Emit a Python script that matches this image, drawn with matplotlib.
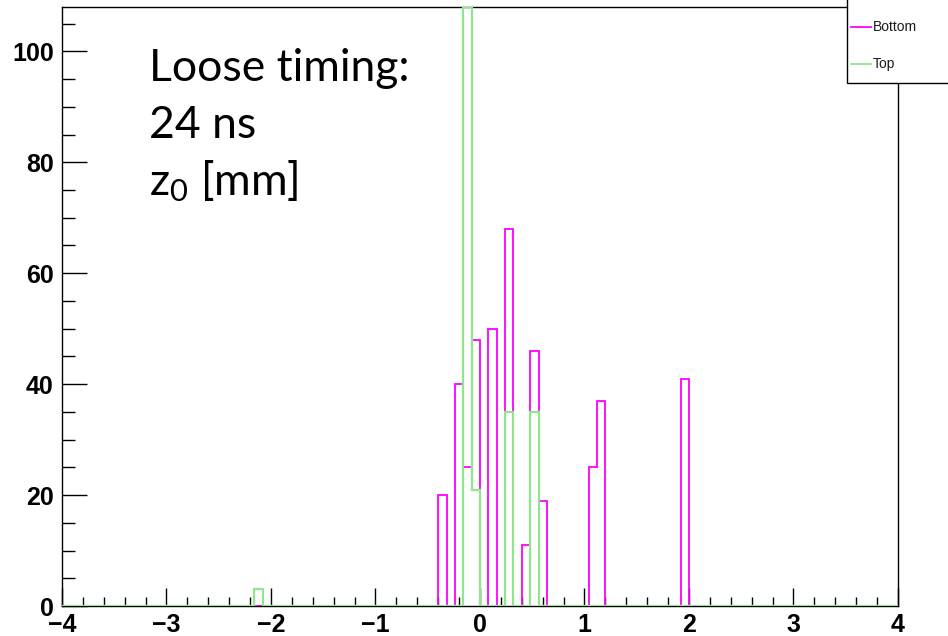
import numpy as np
import matplotlib.pyplot as plt
from matplotlib.patches import Rectangle
from matplotlib.lines import Line2D

# histogram binning: 100 bins on [-4, 4]
n_bins = 100
x_lo, x_hi = -4.0, 4.0

# filled bins (bin centres) and counts
bottom_bins = [-0.36, -0.20, -0.12, -0.04, 0.12, 0.28, 0.44, 0.52, 0.60, 1.08, 1.16, 1.96]
bottom_counts = [20, 40, 25, 48, 50, 68, 11, 46, 19, 25, 37, 41]
top_bins = [-2.12, -0.12, -0.04, 0.28, 0.52]
top_counts = [3, 108, 21, 35, 35]

y_max = 108
label_lines = ["Loose timing:", "24 ns", r"z$_{\mathrm{0}}$ [mm]"]

MAGENTA = "#ff00ff"
GREEN = "#8fe68f"

plt.rcParams["mathtext.fontset"] = "custom"
plt.rcParams["mathtext.rm"] = "Lato"
plt.rcParams["mathtext.it"] = "Lato:italic"

edges = np.linspace(x_lo, x_hi, n_bins + 1)
h_bottom, _ = np.histogram(bottom_bins, bins=edges, weights=bottom_counts)
h_top, _ = np.histogram(top_bins, bins=edges, weights=top_counts)

W, H = 948, 636
fig = plt.figure(figsize=(W / 100, H / 100), dpi=100)
ax = fig.add_axes([62 / W, 1 - 606 / H, (898 - 62) / W, (606 - 7) / H])

ax.stairs(h_bottom, edges, baseline=0, fill=False, color=MAGENTA, lw=1.3, zorder=3)
ax.stairs(h_top, edges, baseline=0, fill=False, color=GREEN, lw=1.6, zorder=4)

ax.set_xlim(x_lo, x_hi)
ax.set_ylim(0, y_max)

ax.set_xticks(np.arange(-4, 5, 1))
ax.set_xticks(np.arange(-4, 4.01, 0.2), minor=True)
ax.set_yticks(np.arange(0, 101, 20))
ax.set_yticks(np.arange(0, 106, 5), minor=True)
ax.set_xticklabels([f"\u2212{abs(v)}" if v < 0 else str(v) for v in range(-4, 5)])

tick_font = dict(family="Liberation Sans", weight="bold", size=18)
for lab in ax.get_xticklabels() + ax.get_yticklabels():
    lab.set_fontproperties(tick_font)

ax.tick_params(axis="x", which="major", direction="in", length=13, width=1, pad=5)
ax.tick_params(axis="x", which="minor", direction="in", length=6.5, width=1)
ax.tick_params(axis="y", which="major", direction="in", length=18, width=1, pad=6)
ax.tick_params(axis="y", which="minor", direction="in", length=9, width=1)
ax.tick_params(top=False, right=False, which="both")

for side in ["left", "right", "top", "bottom"]:
    ax.spines[side].set_linewidth(1)
    ax.spines[side].set_color("black")

# big annotation text
for i, line in enumerate(label_lines):
    fig.text(149 / W, 1 - (81 + 57 * i) / H, line, fontsize=32,
             family="Lato", color="black", va="baseline", ha="left")

# ROOT-style legend box in the top right corner
fig.add_artist(Rectangle((847 / W, 1 - 83 / H), 0.2, 0.2,
                         transform=fig.transFigure, facecolor="white",
                         edgecolor="black", lw=1, zorder=10))
for yy, name, col in [(27, "Bottom", MAGENTA), (64, "Top", GREEN)]:
    fig.add_artist(Line2D([851 / W, 871 / W], [1 - yy / H, 1 - yy / H],
                          transform=fig.transFigure, color=col, lw=1.3, zorder=11))
    fig.text(873 / W, 1 - yy / H, name, fontsize=10, family="Liberation Sans",
             va="center", ha="left", color="#1a1a1a", zorder=12)

fig.savefig("out.png", dpi=100)
